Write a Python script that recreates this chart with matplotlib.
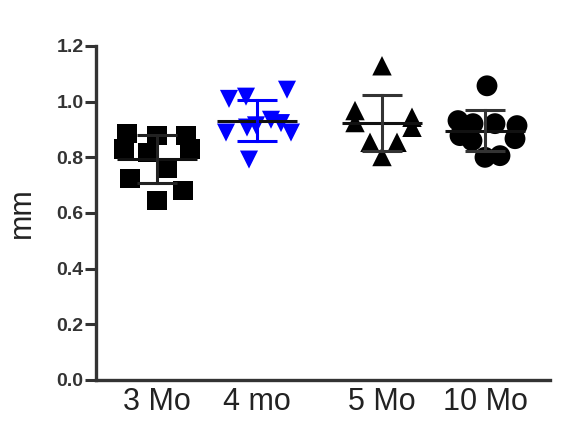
import numpy as np
import matplotlib
matplotlib.use("Agg")
import matplotlib.pyplot as plt

plt.rcParams['font.family'] = ['Liberation Sans', 'DejaVu Sans']

# ---- data ----
groups = ["3 Mo", "4 mo", "5 Mo", "10 Mo"]
group_pos = [1.0, 2.0, 3.25, 4.28]

vals_3mo = [0.885, 0.878, 0.878, 0.830, 0.830, 0.818, 0.759, 0.724, 0.681, 0.645]
jit_3mo = [-0.30, 0.00, 0.29, -0.33, 0.33, -0.09, 0.10, -0.27, 0.26, 0.00]

vals_4mo = [1.010, 1.018, 1.043, 0.889, 0.907, 0.915, 0.935, 0.923, 0.889, 0.792]
jit_4mo = [-0.28, -0.11, 0.30, -0.31, -0.10, -0.01, 0.14, 0.24, 0.34, -0.08]

vals_5mo = [1.129, 0.968, 0.925, 0.944, 0.908, 0.854, 0.854, 0.803]
jit_5mo = [0.00, -0.27, -0.27, 0.30, 0.30, -0.12, 0.15, 0.00]

vals_10mo = [1.057, 0.932, 0.878, 0.921, 0.860, 0.921, 0.914, 0.867, 0.800, 0.806]
jit_10mo = [0.02, -0.27, -0.25, -0.12, -0.13, 0.10, 0.32, 0.30, 0.00, 0.15]

yticks = [0.0, 0.2, 0.4, 0.6, 0.8, 1.0, 1.2]

series = [vals_3mo, vals_4mo, vals_5mo, vals_10mo]
jitters = [jit_3mo, jit_4mo, jit_5mo, jit_10mo]
markers = ['s', 'v', '^', 'o']
sizes = [14, 13, 14, 15]
colors = ['black', '#0000ff', 'black', 'black']
bar_colors = ['#222222', '#0000ff', '#333333', '#333333']

# ---- figure ----
fig = plt.figure(figsize=(5.88, 4.21), dpi=100)
ax = fig.add_axes([96/588, 1-380/421, (550-96)/588, (380-46)/421])

for pos, v, j, m, s, c, bc in zip(group_pos, series, jitters, markers, sizes, colors, bar_colors):
    v = np.asarray(v)
    x = pos + np.asarray(j)
    ax.scatter(x, v, marker=m, s=s**2, color=c, edgecolors='none', zorder=2)
    mean = v.mean()
    sd = v.std(ddof=1)
    # mean line
    ax.plot([pos - 0.40, pos + 0.40], [mean, mean], color='#111111', lw=2.2, zorder=3,
            solid_capstyle='butt')
    # SD bar
    ax.plot([pos, pos], [mean - sd, mean + sd], color=bc, lw=2.2, zorder=3)
    for yy in (mean - sd, mean + sd):
        ax.plot([pos - 0.2, pos + 0.2], [yy, yy], color=bc, lw=2.2, zorder=3,
                solid_capstyle='butt')

ax.set_xlim(0.39, 4.93)
ax.set_ylim(0, 1.2)
ax.set_yticks(yticks)
ax.set_yticklabels([f"{t:.1f}" for t in yticks], fontsize=14, fontweight='bold', color='#333333')
ax.set_xticks(group_pos)
ax.set_xticklabels(groups, fontsize=22, color='#222222')
ax.tick_params(axis='x', length=0, pad=5)
ax.tick_params(axis='y', length=8, width=2.2, color='#333333', pad=1)

for side in ('top', 'right'):
    ax.spines[side].set_visible(False)
for side in ('left', 'bottom'):
    ax.spines[side].set_linewidth(2.4)
    ax.spines[side].set_color('#333333')

ax.set_ylabel("mm", fontsize=22, color='#222222')
ax.yaxis.set_label_coords(-0.13, 0.5)

fig.savefig("out.png", dpi=100)
